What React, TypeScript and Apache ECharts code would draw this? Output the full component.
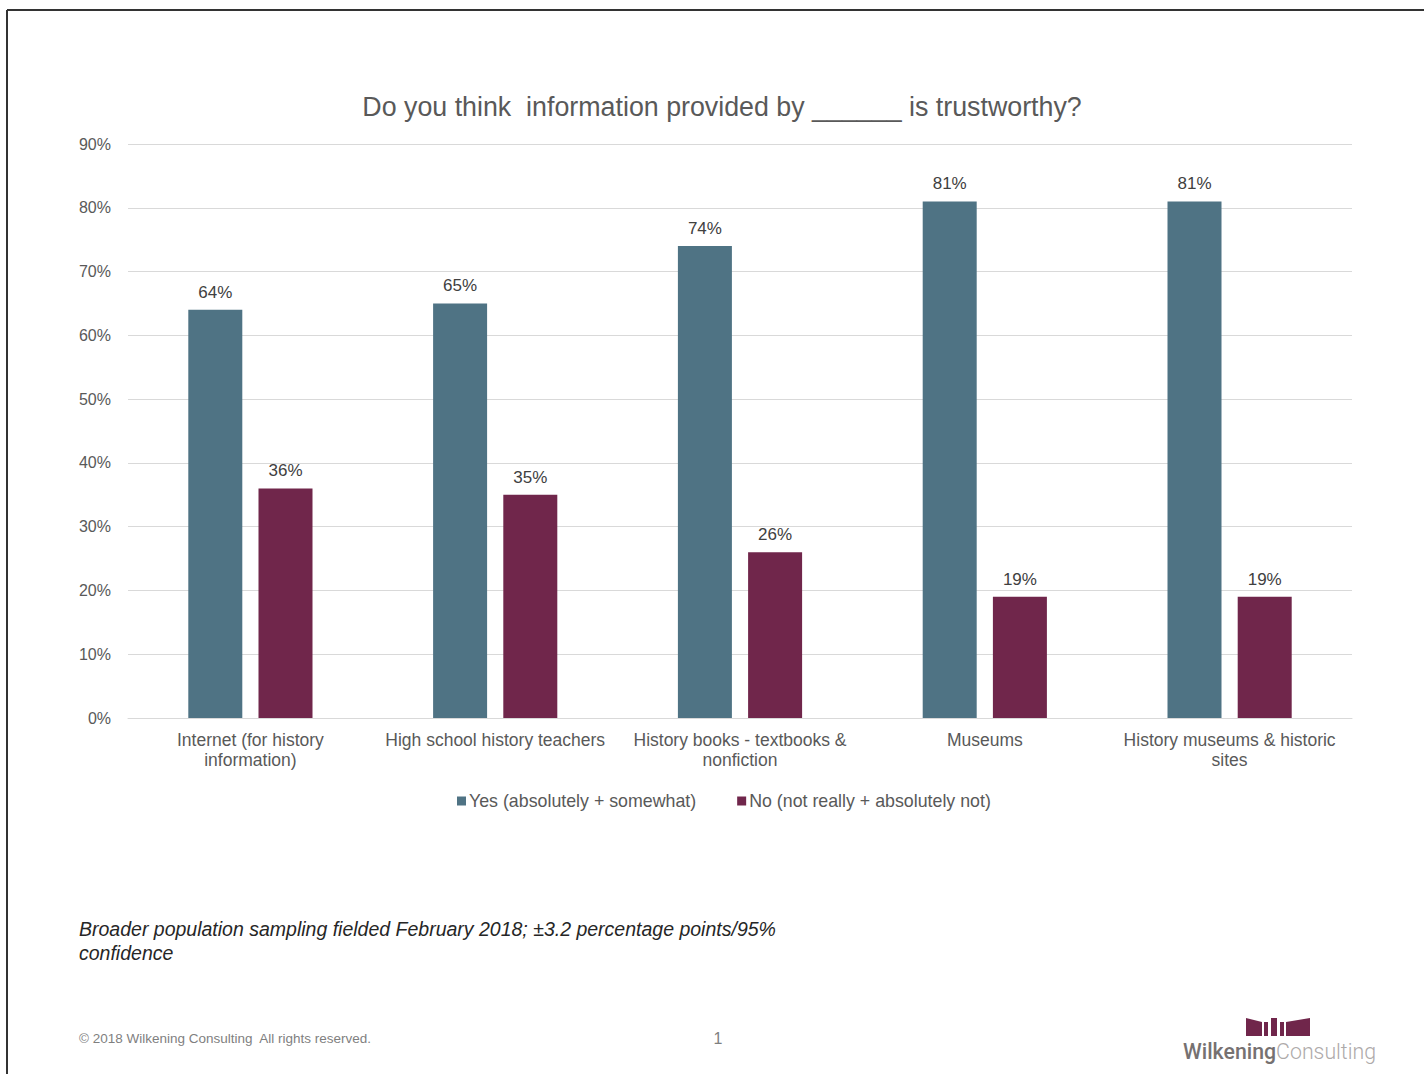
import React, { useEffect, useRef } from "react";
import * as echarts from "echarts";

const categories = [
  "Internet (for history\ninformation)",
  "High school history teachers",
  "History books - textbooks &\nnonfiction",
  "Museums",
  "History museums & historic\nsites",
];
const yesValues = [64, 65, 74, 81, 81];
const noValues = [36, 35, 26, 19, 19];
const seriesNames = ["Yes (absolutely + somewhat)", "No (not really + absolutely not)"];
const titleText = "Do you think  information provided by ______ is trustworthy?";
const footnoteLines = [
  "Broader population sampling fielded February 2018; \u00b13.2 percentage points/95%",
  "confidence",
];
const copyrightText = "\u00a9 2018 Wilkening Consulting  All rights reserved.";

export default function App() {
  const ref = useRef<HTMLDivElement>(null);
  useEffect(() => {
    if (!ref.current) return;
    const chart = echarts.init(ref.current, null, { renderer: "svg" });
    const font = "'Liberation Sans', Arial, sans-serif";
    const labelStyle = {
      show: true,
      position: "top",
      distance: 9,
      fontFamily: font,
      fontSize: 17,
      color: "#404040",
      formatter: "{c}%",
    };
    chart.setOption({
      animation: false,
      backgroundColor: "#ffffff",
      title: {
        text: titleText,
        left: 717,
        top: 88,
        textAlign: "center",
        textStyle: { fontFamily: font, fontSize: 26.8, fontWeight: "normal", color: "#595959" },
      },
      grid: { left: 128, right: 72, top: 144, bottom: 356 },
      legend: {
        left: 452,
        top: 787,
        itemWidth: 9,
        itemHeight: 9,
        itemGap: 41,
        icon: "rect",
        textStyle: { fontFamily: font, fontSize: 17.8, color: "#595959", padding: [0, 0, 0, -2] },
        data: seriesNames,
      },
      xAxis: {
        type: "category",
        data: categories,
        axisLine: { lineStyle: { color: "#d9d9d9", width: 1 } },
        axisTick: { show: false },
        axisLabel: {
          fontFamily: font,
          fontSize: 17.5,
          color: "#595959",
          margin: 12,
          lineHeight: 20,
          interval: 0,
        },
      },
      yAxis: {
        type: "value",
        min: 0,
        max: 90,
        interval: 10,
        axisLine: { show: false },
        axisTick: { show: false },
        splitLine: { lineStyle: { color: "#d9d9d9", width: 1 } },
        axisLabel: {
          fontFamily: font,
          fontSize: 16,
          color: "#595959",
          margin: 17,
          formatter: "{value}%",
        },
      },
      series: [
        {
          name: seriesNames[0],
          type: "bar",
          data: yesValues,
          barWidth: 54,
          barGap: "30%",
          itemStyle: { color: "#4f7384" },
          label: labelStyle,
        },
        {
          name: seriesNames[1],
          type: "bar",
          data: noValues,
          barWidth: 54,
          itemStyle: { color: "#70264b" },
          label: labelStyle,
        },
      ],
      graphic: [
        { type: "line", shape: { x1: 7, y1: 10, x2: 1424, y2: 10 }, style: { stroke: "#333333", lineWidth: 2 } },
        { type: "line", shape: { x1: 7, y1: 10, x2: 7, y2: 1074 }, style: { stroke: "#333333", lineWidth: 2 } },
        {
          type: "text",
          left: 79,
          top: 917,
          style: {
            text: footnoteLines.join("\n"),
            font: "italic 19.5px 'Liberation Sans', Arial, sans-serif",
            lineHeight: 24,
            fill: "#262626",
          },
        },
        {
          type: "text",
          x: 79,
          y: 1038,
          style: {
            text: copyrightText,
            font: "13.5px 'Liberation Sans', Arial, sans-serif",
            fill: "#7f7f7f",
            textVerticalAlign: "middle",
          },
        },
        {
          type: "text",
          x: 718,
          y: 1038,
          style: {
            text: "1",
            font: "16px 'Liberation Sans', Arial, sans-serif",
            fill: "#7f7f7f",
            textAlign: "center",
            textVerticalAlign: "middle",
          },
        },
        {
          type: "text",
          x: 1183,
          y: 1051,
          style: {
            text: "{a|Wilkening}{b|Consulting}",
            textVerticalAlign: "middle",
            rich: {
              a: { fontFamily: "Roboto, sans-serif", fontSize: 21.3, fontWeight: 500, fill: "#767171", color: "#767171" },
              b: { fontFamily: "Roboto, sans-serif", fontSize: 21.3, fontWeight: 300, fill: "#aeaaaa", color: "#aeaaaa" },
            },
          },
        },
        {
          type: "polygon",
          shape: { points: [[1246, 1018], [1262, 1022], [1262, 1036], [1246, 1036]] },
          style: { fill: "#70264b" },
        },
        {
          type: "polygon",
          shape: { points: [[1264, 1022], [1268, 1022], [1268, 1036], [1264, 1036]] },
          style: { fill: "#70264b" },
        },
        {
          type: "polygon",
          shape: { points: [[1271, 1018], [1277, 1018], [1277, 1036], [1271, 1036]] },
          style: { fill: "#70264b" },
        },
        {
          type: "polygon",
          shape: { points: [[1280, 1022], [1284, 1022], [1284, 1036], [1280, 1036]] },
          style: { fill: "#70264b" },
        },
        {
          type: "polygon",
          shape: { points: [[1286, 1022], [1310, 1018], [1310, 1036], [1286, 1036]] },
          style: { fill: "#70264b" },
        },
      ],
    });
    return () => chart.dispose();
  }, []);
  return (
    <div
      ref={ref}
      style={{ position: "absolute", left: 0, top: 0, width: 1424, height: 1074, background: "#fff" }}
    />
  );
}
